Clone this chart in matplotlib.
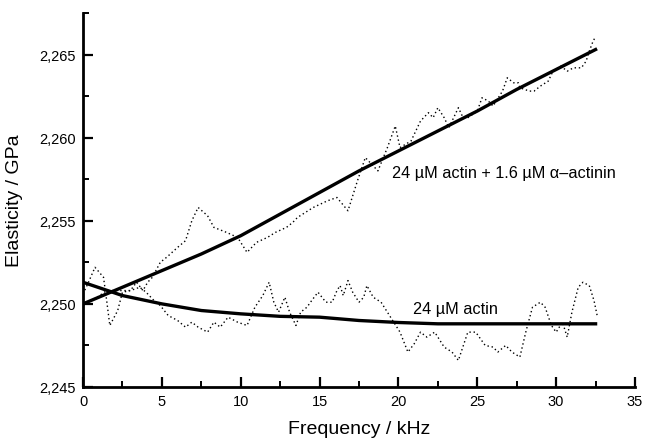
import matplotlib.pyplot as plt
from matplotlib.ticker import MultipleLocator, FuncFormatter

plt.rcParams['font.family'] = ['Liberation Sans', 'DejaVu Sans']

# fitted curves
fit_x = [0, 1.25, 2.5, 3.75, 5, 6.25, 7.5, 8.75, 10, 12.5, 15, 17.5, 20,
         22.5, 25, 27.5, 30, 32.5]
fit_actinin = [2.2500, 2.2505, 2.2510, 2.2515, 2.2520, 2.2525, 2.2530, 2.25355,
               2.2541, 2.2554, 2.2567, 2.2580, 2.2592, 2.2604, 2.2616, 2.2629,
               2.2641, 2.2653]
fit_actin = [2.2513, 2.2509, 2.2505, 2.25025, 2.2500, 2.2498, 2.2496, 2.2495,
             2.2494, 2.24925, 2.2492, 2.2490, 2.24888, 2.2488, 2.2488, 2.2488,
             2.2488, 2.2488]

# measured data, actin + alpha-actinin
actinin_x = [0.0, 0.25, 0.9, 1.5, 2.3, 3.0, 3.4, 3.8, 4.1, 4.4,
             4.9, 5.3, 6.0, 6.5, 6.9, 7.3, 7.9, 8.3, 9.1, 9.8,
             10.4, 11.0, 11.7, 12.2, 12.9, 13.3, 13.6, 14.6, 15.5, 16.1,
             16.8, 17.4, 17.9, 18.4, 18.7, 19.3, 19.8, 20.1, 20.8, 21.4,
             21.9, 22.2, 22.5, 22.9, 23.2, 23.5, 23.8, 24.1, 24.4, 25.0,
             25.3, 25.7, 26.0, 26.6, 26.9, 27.3, 27.6, 27.7, 28.3, 28.6,
             29.0, 29.5, 29.8, 30.3, 30.7, 31.1, 31.6, 31.9, 32.1, 32.3,
             32.5]
actinin_y = [2.2499, 2.2501, 2.2504, 2.2508, 2.2508, 2.2508, 2.2513, 2.2508, 2.2513, 2.2516,
             2.2525, 2.2528, 2.2534, 2.2538, 2.2550, 2.2558, 2.2553, 2.2546, 2.2543, 2.2540,
             2.2531, 2.2537, 2.2540, 2.2543, 2.2546, 2.2549, 2.2552, 2.2558, 2.2562, 2.2564,
             2.2556, 2.2574, 2.2588, 2.2583, 2.2580, 2.2594, 2.2607, 2.2594, 2.2598, 2.2610,
             2.2615, 2.2612, 2.2618, 2.2612, 2.2606, 2.2612, 2.2618, 2.2612, 2.2612, 2.2616,
             2.2624, 2.2622, 2.2619, 2.2628, 2.2636, 2.2633, 2.2633, 2.2630, 2.2628, 2.2628,
             2.2631, 2.2634, 2.2640, 2.2643, 2.2640, 2.2642, 2.2642, 2.2646, 2.2652, 2.2657,
             2.2661]

# measured data, actin only
actin_x = [0.0, 0.3, 0.76, 1.3, 1.5, 1.7, 2.2, 2.5, 3.0, 3.6,
           4.0, 4.5, 4.9, 5.4, 6.0, 6.5, 6.9, 7.3, 7.9, 8.3,
           8.7, 9.2, 9.8, 10.4, 10.9, 11.4, 11.8, 12.1, 12.4, 12.8,
           13.1, 13.5, 13.8, 14.2, 14.5, 14.9, 15.4, 15.8, 16.1, 16.3,
           16.5, 16.8, 17.1, 17.5, 17.8, 18.0, 18.4, 18.9, 19.3, 19.7,
           20.1, 20.6, 21.0, 21.4, 21.8, 22.3, 22.9, 23.4, 23.8, 24.4,
           24.9, 25.5, 26.0, 26.3, 26.8, 27.2, 27.7, 28.1, 28.5, 29.0,
           29.3, 29.7, 30.0, 30.4, 30.7, 31.0, 31.4, 31.7, 32.1, 32.4,
           32.6]
actin_y = [2.2506, 2.2512, 2.2522, 2.2516, 2.2502, 2.2487, 2.2496, 2.2507, 2.2508, 2.2510,
           2.2507, 2.2502, 2.2499, 2.2493, 2.2490, 2.2486, 2.2489, 2.2486, 2.2483, 2.2489,
           2.2486, 2.2492, 2.2489, 2.2487, 2.2498, 2.2505, 2.2513, 2.2501, 2.2495, 2.2504,
           2.2495, 2.2487, 2.2495, 2.2498, 2.2502, 2.2507, 2.2501, 2.2501, 2.2508, 2.2511,
           2.2505, 2.2514, 2.2507, 2.2501, 2.2504, 2.2511, 2.2504, 2.2501, 2.2495, 2.2489,
           2.2483, 2.2471, 2.2476, 2.2483, 2.2480, 2.2483, 2.2474, 2.2471, 2.2466, 2.2483,
           2.2483, 2.2475, 2.2474, 2.2471, 2.2475, 2.2471, 2.2468, 2.2484, 2.2498, 2.2501,
           2.2498, 2.2487, 2.2483, 2.2489, 2.2480, 2.2495, 2.2510, 2.2513, 2.2511, 2.2502,
           2.2493]

fig = plt.figure(figsize=(6.45, 4.39), dpi=100)
ax = fig.add_axes([0.1287, 0.1162, 0.8558, 0.852])

dots = (0, (1, 2))
ax.plot(actinin_x, actinin_y, color='black', lw=1.0, linestyle=dots)
ax.plot(actin_x, actin_y, color='black', lw=1.0, linestyle=dots)
ax.plot(fit_x, fit_actinin, color='black', lw=2.4, solid_joinstyle='round')
ax.plot(fit_x, fit_actin, color='black', lw=2.4, solid_joinstyle='round')

ax.text(19.6, 2.2579, '24 µM actin + 1.6 µM α–actinin', fontsize=11.7,
        ha='left', va='center')
ax.text(20.95, 2.2497, '24 µM actin', fontsize=11.7, ha='left', va='center')

ax.set_xlim(0, 35)
ax.set_ylim(2.245, 2.2675)
ax.xaxis.set_major_locator(MultipleLocator(5))
ax.xaxis.set_minor_locator(MultipleLocator(2.5))
ax.yaxis.set_major_locator(MultipleLocator(0.005))
ax.yaxis.set_minor_locator(MultipleLocator(0.0025))
ax.yaxis.set_major_formatter(FuncFormatter(lambda v, p: f'{v:.3f}'.replace('.', ',')))

for side in ['top', 'right']:
    ax.spines[side].set_visible(False)
for side in ['left', 'bottom']:
    ax.spines[side].set_linewidth(2)

ax.tick_params(which='major', direction='in', length=7, width=1.6, labelsize=10.5, pad=5)
ax.tick_params(which='minor', direction='in', length=4, width=1.4)

ax.set_xlabel('Frequency / kHz', fontsize=14, labelpad=9)
ax.set_ylabel('Elasticity / GPa', fontsize=14, labelpad=12)

fig.savefig('out.png', dpi=100)
